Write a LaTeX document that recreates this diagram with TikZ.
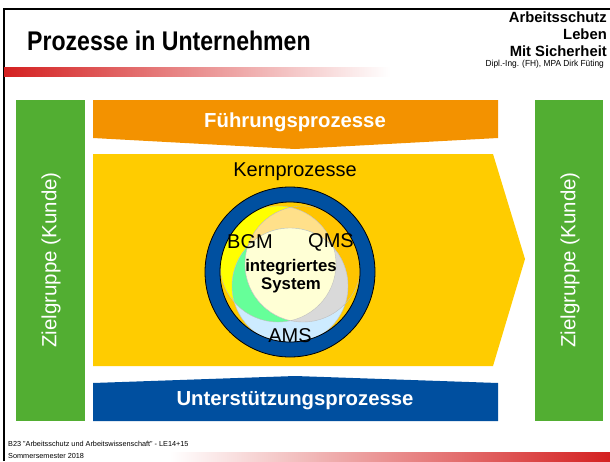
\documentclass[tikz,border=0pt]{standalone}
\usepackage{fontspec}
\setmainfont{Liberation Sans}
\definecolor{grn}{HTML}{52AE32}
\definecolor{org}{HTML}{F39200}
\definecolor{gld}{HTML}{FFCC00}
\definecolor{blu}{HTML}{004F9F}
\definecolor{ring}{HTML}{0050A0}
\definecolor{bgmc}{HTML}{FFFF00}
\definecolor{qmsc}{HTML}{FFC400}
\definecolor{amsc}{HTML}{CDEBFF}
\definecolor{peach}{HTML}{FFE08A}
\definecolor{lgreen}{HTML}{66FF99}
\definecolor{lgrey}{HTML}{D9D9D9}
\definecolor{cream}{HTML}{FFFFD5}
\definecolor{redbar}{HTML}{D42020}
\tikzset{
  wtxt/.style={text=white,font=\bfseries\fontsize{20.3}{23}\selectfont,inner sep=0pt},
  zg/.style={text=white,font=\fontsize{20.5}{23}\selectfont,rotate=90,inner sep=0pt},
  lbl/.style={text=black,font=\fontsize{20}{23}\selectfont,inner sep=0pt},
  hdr/.style={anchor=east,font=\bfseries\fontsize{14.8}{17}\selectfont,inner sep=0pt},
  foot/.style={anchor=west,font=\fontsize{7.3}{8.5}\selectfont,inner sep=0pt}
}
\begin{document}
\begin{tikzpicture}[x=1pt,y=-1pt]
\useasboundingbox (0,0) rectangle (610,461);
\fill[white] (0,0) rectangle (610,461);
% frame
\draw[line width=2.5pt] (4,461) -- (4,9) -- (610,9);
% header bar
\shade[left color=redbar,right color=white] (4,67) rectangle (390,76);
\shade[left color=white,right color=redbar] (170,452) rectangle (610,461);
\node[anchor=west,font=\bfseries\fontsize{27}{30}\selectfont,inner sep=0pt,xscale=0.855] (title) at (27,41) {Prozesse in Unternehmen};
\node[hdr] (h1) at (607,17) {Arbeitsschutz};
\node[hdr] (h2) at (607,34) {Leben};
\node[hdr] (h3) at (607,51) {Mit Sicherheit};
\node[anchor=east,font=\fontsize{8.8}{10}\selectfont,inner sep=0pt,xscale=0.95] (h4) at (604,64) {Dipl.-Ing. (FH), MPA Dirk Füting};
\node[foot] (f1) at (8,444) {B23 "Arbeitsschutz und Arbeitswissenschaft" - LE14+15};
\node[foot] (f2) at (8,456) {Sommersemester 2018};
% green boxes
\fill[grn] (16,100) rectangle (85,421);
\fill[grn] (535,100) rectangle (603,421);
\node[zg] (zl) at (51,260) {Zielgruppe (Kunde)};
\node[zg] (zr) at (570,260) {Zielgruppe (Kunde)};
% process shapes
\fill[org] (93,100) -- (498,100) -- (498,138) -- (295,149) -- (93,138) -- cycle;
\fill[gld] (93,154) -- (493,154) -- (525,259) -- (493,366) -- (93,366) -- cycle;
\fill[blu] (93,383) -- (295,376) -- (498,383) -- (498,421) -- (93,421) -- cycle;
\node[wtxt] (fp) at (295,122) {Führungsprozesse};
\node[wtxt] (up) at (295,401) {Unterstützungsprozesse};
\node[lbl] (kp) at (295,172) {Kernprozesse};
% venn
\begin{scope}
\clip (290,272) circle (70);
\fill[gld] (290,272) circle (70);
\fill[bgmc] (278,264) circle (58);
\fill[qmsc] (303,264) circle (58);
\fill[amsc] (290,286) circle (58);
\begin{scope}\clip (278,264) circle (58); \fill[peach] (303,264) circle (58);\end{scope}
\begin{scope}\clip (278,264) circle (58); \fill[lgreen] (290,286) circle (58);\end{scope}
\begin{scope}\clip (303,264) circle (58); \fill[lgrey] (290,286) circle (58);\end{scope}
\begin{scope}\clip (278,264) circle (58); \clip (303,264) circle (58); \fill[cream] (290,286) circle (58);\end{scope}
\draw[black!25,line width=0.4pt] (278,264) circle (58) (303,264) circle (58) (290,286) circle (58);
\end{scope}
\draw[ring,line width=15pt] (290,272) circle (77.5);
\draw[black,line width=0.8pt] (290,272) circle (85) (290,272) circle (70);
\node[lbl] (bgm) at (250,242) {BGM};
\node[lbl] (qms) at (331,242) {QMS};
\node[lbl] (ams) at (290,336) {AMS};
\node[font=\bfseries\fontsize{16.8}{19}\selectfont,align=center,inner sep=0pt] (is) at (291,276) {integriertes\\[-1pt]System};
\end{tikzpicture}
\end{document}
